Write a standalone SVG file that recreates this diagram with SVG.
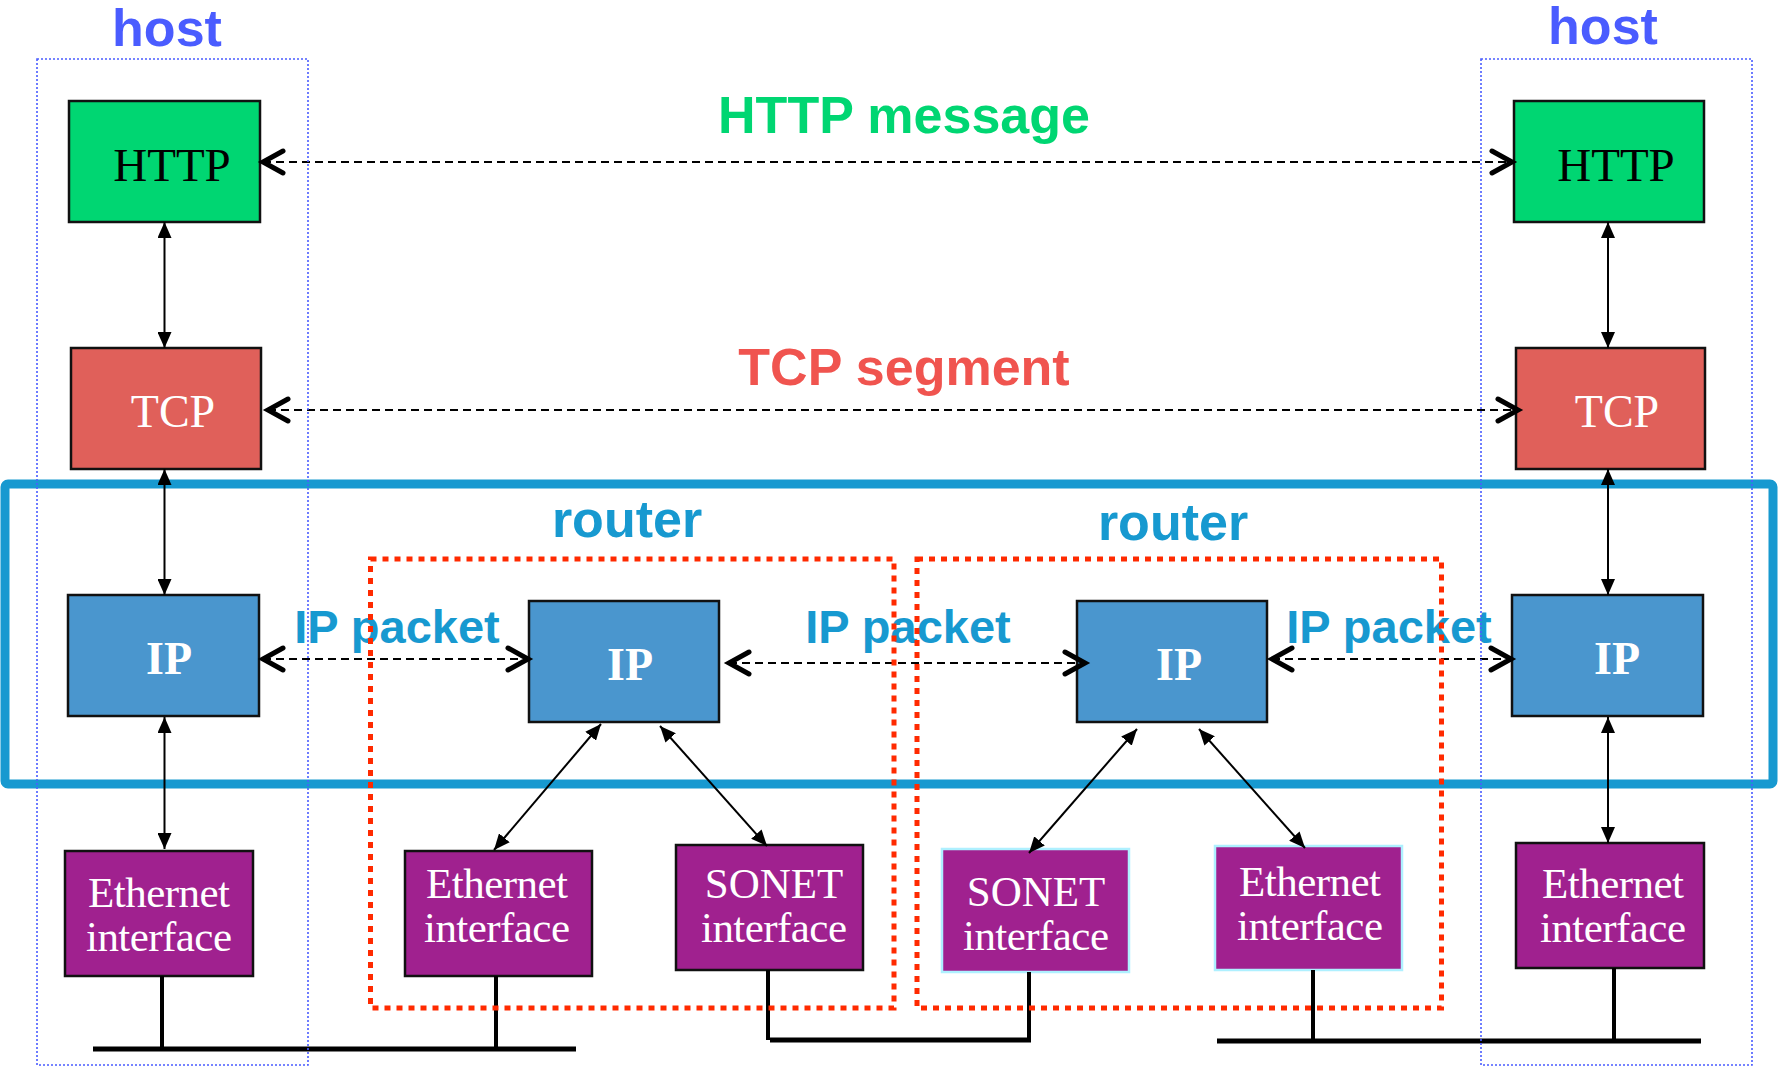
<svg xmlns="http://www.w3.org/2000/svg" width="1779" height="1069" viewBox="0 0 1779 1069">
<style>
.box{stroke:#111;stroke-width:2.5}
.http{fill:#00d672}
.tcp{fill:#e0605a}
.ip{fill:#4a96ce}
.ifc{fill:#a0218f}
.lb{stroke:#aef0ff}
.bt{font-family:"Liberation Serif",serif;text-anchor:middle}
.lbl{font-family:"Liberation Sans",Arial,sans-serif;font-weight:bold;text-anchor:middle;font-size:52px}
.pk{font-size:47px}
.solid{stroke:#000;stroke-width:2;fill:none;marker-start:url(#tri);marker-end:url(#tri)}
.dash{stroke:#000;stroke-width:2;fill:none;stroke-dasharray:8 5;marker-start:url(#chev);marker-end:url(#chev)}
.bus{stroke:#000;stroke-width:5;fill:none}
.stem{stroke:#000;stroke-width:4;fill:none}
.host{fill:none;stroke:#4a5cff;stroke-width:1.6;stroke-dasharray:2 2}
.rtr{fill:none;stroke:#ff2a00;stroke-width:5;stroke-dasharray:6 6}
</style>
<defs>
<marker id="tri" viewBox="0 0 16 14" refX="16" refY="7" markerWidth="16" markerHeight="14" markerUnits="userSpaceOnUse" orient="auto-start-reverse">
<path d="M0,0 L16,7 L0,14 z" fill="#000"/>
</marker>
<marker id="chev" viewBox="-4 -4 28 30" refX="20" refY="11" markerWidth="28" markerHeight="30" markerUnits="userSpaceOnUse" orient="auto-start-reverse" overflow="visible">
<path d="M0,0 L20,11 L0,22" fill="none" stroke="#000" stroke-width="5" stroke-linecap="round" stroke-linejoin="miter"/>
</marker>
</defs>
<rect width="1779" height="1069" fill="#fff"/>

<rect id="ip-layer-band" x="5" y="484" width="1768" height="300" rx="3" fill="none" stroke="#1799d0" stroke-width="9"/>

<g id="host-left-http"><rect class="box http" x="69" y="101" width="191" height="121"/><text class="bt" x="172" y="181" font-size="47">HTTP</text></g>
<g id="host-right-http"><rect class="box http" x="1514" y="101" width="190" height="121"/><text class="bt" x="1616" y="181" font-size="47">HTTP</text></g>
<g id="host-left-tcp"><rect class="box tcp" x="71" y="348" width="190" height="121"/><text class="bt" x="173" y="427" font-size="46" fill="#fff">TCP</text></g>
<g id="host-right-tcp"><rect class="box tcp" x="1516" y="348" width="189" height="121"/><text class="bt" x="1617" y="427" font-size="46" fill="#fff">TCP</text></g>
<g id="host-left-ip"><rect class="box ip" x="68" y="595" width="191" height="121"/><text class="bt" x="169" y="674" font-size="46" font-weight="bold" fill="#fff">IP</text></g>
<g id="router1-ip"><rect class="box ip" x="529" y="601" width="190" height="121"/><text class="bt" x="630" y="680" font-size="46" font-weight="bold" fill="#fff">IP</text></g>
<g id="router2-ip"><rect class="box ip" x="1077" y="601" width="190" height="121"/><text class="bt" x="1179" y="680" font-size="46" font-weight="bold" fill="#fff">IP</text></g>
<g id="host-right-ip"><rect class="box ip" x="1512" y="595" width="191" height="121"/><text class="bt" x="1617" y="674" font-size="46" font-weight="bold" fill="#fff">IP</text></g>

<g id="host-left-eth"><rect class="box ifc" x="65" y="851" width="188" height="125"/><text class="bt" font-size="43" fill="#fff"><tspan x="159" y="907" textLength="142">Ethernet</tspan><tspan x="159" y="951" textLength="146">interface</tspan></text></g>
<g id="router1-eth"><rect class="box ifc" x="405" y="851" width="187" height="125"/><text class="bt" font-size="43" fill="#fff"><tspan x="497" y="898" textLength="142">Ethernet</tspan><tspan x="497" y="942" textLength="146">interface</tspan></text></g>
<g id="router1-sonet"><rect class="box ifc" x="676" y="845" width="187" height="125"/><text class="bt" font-size="43" fill="#fff"><tspan x="774" y="898">SONET</tspan><tspan x="774" y="942" textLength="146">interface</tspan></text></g>
<g id="router2-sonet"><rect class="box ifc lb" x="942" y="849" width="187" height="123"/><text class="bt" font-size="43" fill="#fff"><tspan x="1036" y="906">SONET</tspan><tspan x="1036" y="950" textLength="146">interface</tspan></text></g>
<g id="router2-eth"><rect class="box ifc lb" x="1215" y="846" width="187" height="124"/><text class="bt" font-size="43" fill="#fff"><tspan x="1310" y="896" textLength="142">Ethernet</tspan><tspan x="1310" y="940" textLength="146">interface</tspan></text></g>
<g id="host-right-eth"><rect class="box ifc" x="1516" y="843" width="188" height="125"/><text class="bt" font-size="43" fill="#fff"><tspan x="1613" y="898" textLength="142">Ethernet</tspan><tspan x="1613" y="942" textLength="146">interface</tspan></text></g>

<g id="connectors">
<line class="solid" x1="164.5" y1="222" x2="164.5" y2="348"/>
<line class="solid" x1="1608" y1="222" x2="1608" y2="348"/>
<line class="solid" x1="164.5" y1="469" x2="164.5" y2="595"/>
<line class="solid" x1="1608" y1="469" x2="1608" y2="595"/>
<line class="solid" x1="164.5" y1="717" x2="164.5" y2="849"/>
<line class="solid" x1="1608" y1="717" x2="1608" y2="843"/>
<line class="solid" x1="601" y1="724" x2="494" y2="850"/>
<line class="solid" x1="660" y1="726" x2="767" y2="846"/>
<line class="solid" x1="1137" y1="729" x2="1029" y2="853"/>
<line class="solid" x1="1199" y1="729" x2="1305" y2="848"/>
<line class="dash" x1="263" y1="162" x2="1512" y2="162"/>
<line class="dash" x1="268" y1="410" x2="1518" y2="410"/>
<line class="dash" x1="263" y1="659" x2="528" y2="659"/>
<line class="dash" x1="729" y1="663" x2="1085" y2="663"/>
<line class="dash" x1="1272" y1="659" x2="1511" y2="659"/>
<line class="stem" x1="162" y1="976" x2="162" y2="1049"/>
<line class="stem" x1="496" y1="976" x2="496" y2="1049"/>
<line class="bus" x1="93" y1="1049" x2="576" y2="1049"/>
<polyline class="stem" points="768,970 768,1040"/>
<polyline class="stem" points="1029,972 1029,1040"/>
<line class="bus" x1="770" y1="1040" x2="1031" y2="1040"/>
<line class="stem" x1="1313" y1="970" x2="1313" y2="1040"/>
<line class="stem" x1="1614" y1="968" x2="1614" y2="1040"/>
<line class="bus" x1="1217" y1="1041" x2="1701" y2="1041"/>
</g>

<g id="labels">
<text class="lbl" x="167" y="46" fill="#4a5cff">host</text>
<text class="lbl" x="1603" y="44" fill="#4a5cff">host</text>
<text class="lbl" x="904" y="133" fill="#00d672">HTTP message</text>
<text class="lbl" x="904" y="385" fill="#f0544f">TCP segment</text>
<text class="lbl" x="627" y="537" fill="#1799d0">router</text>
<text class="lbl" x="1173" y="540" fill="#1799d0">router</text>
<text class="lbl pk" x="397" y="643" fill="#1799d0">IP packet</text>
<text class="lbl pk" x="908" y="643" fill="#1799d0">IP packet</text>
<text class="lbl pk" x="1389" y="643" fill="#1799d0">IP packet</text>
</g>

<g id="host-left"><rect class="host" x="37" y="59" width="271" height="1006"/></g>
<g id="host-right"><rect class="host" x="1481" y="59" width="271" height="1006"/></g>
<g id="router1"><rect class="rtr" x="370.5" y="559" width="523.5" height="449"/></g>
<g id="router2"><rect class="rtr" x="917" y="559" width="524.5" height="449"/></g>
</svg>
